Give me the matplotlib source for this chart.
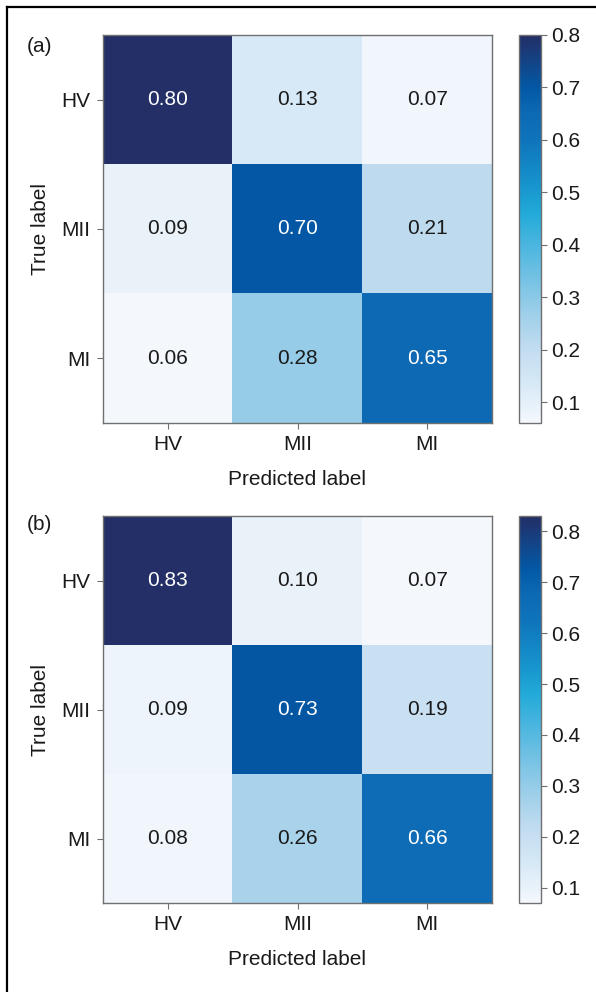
import matplotlib
matplotlib.use("Agg")
import matplotlib.pyplot as plt
import numpy as np
from matplotlib.lines import Line2D
from matplotlib.colors import LinearSegmentedColormap

plt.rcParams['font.family'] = ['Liberation Sans', 'DejaVu Sans']

classes = ["HV", "MII", "MI"]
cm_a = [[0.80, 0.13, 0.07],
        [0.09, 0.70, 0.21],
        [0.06, 0.28, 0.65]]
cm_b = [[0.83, 0.10, 0.07],
        [0.09, 0.73, 0.19],
        [0.08, 0.26, 0.66]]
cbar_ticks = [0.1, 0.2, 0.3, 0.4, 0.5, 0.6, 0.7, 0.8]
panel_tags = ["(a)", "(b)"]

# saturated blue ramp (light -> navy)
blue_ramp = LinearSegmentedColormap.from_list("blue_ramp", [
    (0.00, "#f4f8fd"),
    (0.05, "#e6f0f9"),
    (0.10, "#d6e9f6"),
    (0.19, "#c2dcf0"),
    (0.30, "#96cce8"),
    (0.46, "#4ab5df"),
    (0.54, "#22aad8"),
    (0.60, "#1898cf"),
    (0.73, "#0e74bb"),
    (0.80, "#0d69b3"),
    (0.865, "#0358a6"),
    (1.00, "#232f66"),
])

W, H = 596, 992
fig = plt.figure(figsize=(W / 100, H / 100), dpi=100)

def px_axes(x0, y0, x1, y1):
    return fig.add_axes([x0 / W, 1 - y1 / H, (x1 - x0) / W, (y1 - y0) / H])

spine_col = "#707070"
fs = 15

def draw_panel(mat, top, bottom, tag, tag_y):
    mat = np.array(mat)
    ax = px_axes(103, top, 492, bottom)
    cax = px_axes(519, top, 541, bottom)
    vmin, vmax = mat.min(), mat.max()
    im = ax.imshow(mat, cmap=blue_ramp, vmin=vmin, vmax=vmax, aspect="auto",
                   interpolation="nearest")
    thresh = (vmin + vmax) / 2
    for i in range(mat.shape[0]):
        for j in range(mat.shape[1]):
            ax.text(j, i, f"{mat[i, j]:.2f}", ha="center", va="center",
                    fontsize=fs, color="white" if mat[i, j] > thresh else "#1a1a1a")
    ax.set_xticks(range(len(classes)))
    ax.set_xticklabels(classes, fontsize=fs)
    ax.set_yticks(range(len(classes)))
    ax.set_yticklabels(classes, fontsize=fs)
    ax.set_xlabel("Predicted label", fontsize=fs, labelpad=11, color="#1a1a1a")
    ax.set_ylabel("True label", fontsize=fs, labelpad=8, color="#1a1a1a")
    ax.tick_params(length=4, color=spine_col, pad=5, labelcolor="#1a1a1a")
    for s in ax.spines.values():
        s.set_color(spine_col)
        s.set_linewidth(1.0)
    cb = fig.colorbar(im, cax=cax, ticks=cbar_ticks)
    cb.ax.tick_params(labelsize=fs, length=4, color=spine_col, pad=3,
                      labelcolor="#1a1a1a")
    cb.outline.set_edgecolor(spine_col)
    cb.outline.set_linewidth(1.0)
    fig.text(27 / W, 1 - tag_y / H, tag, fontsize=fs, ha="left", va="center",
             color="#1a1a1a")

draw_panel(cm_a, 35, 423, panel_tags[0], 46)
draw_panel(cm_b, 516, 903, panel_tags[1], 524)

# outer frame (top and left edges)
fig.add_artist(Line2D([7 / W, 7 / W], [0, 1 - 7 / H], color="black", lw=1.6,
                      transform=fig.transFigure))
fig.add_artist(Line2D([7 / W, 1], [1 - 7 / H, 1 - 7 / H], color="black", lw=1.6,
                      transform=fig.transFigure))

fig.savefig("out.png", dpi=100)
